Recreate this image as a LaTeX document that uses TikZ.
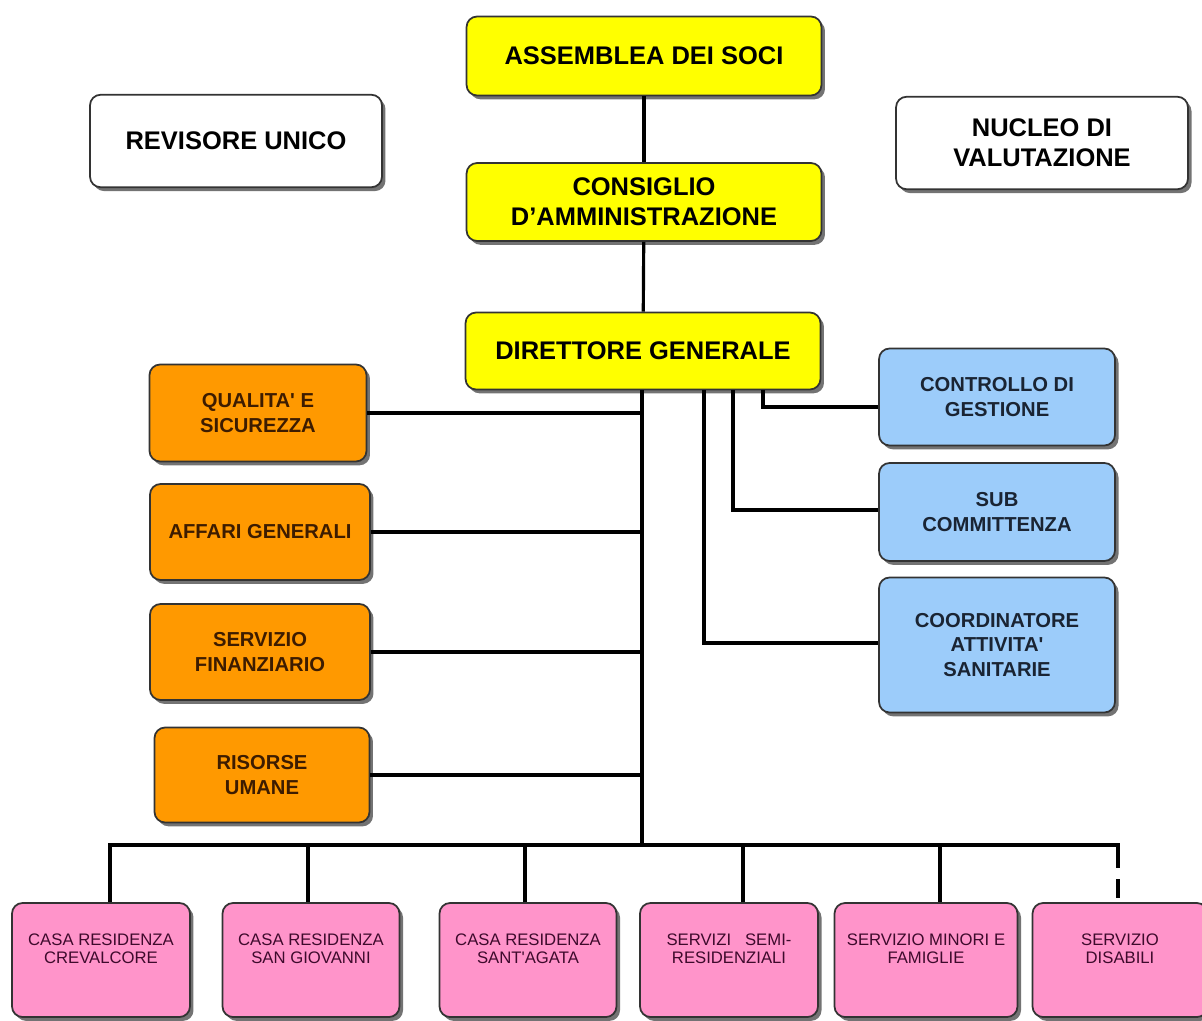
\documentclass[tikz,border=0pt]{standalone}
\usepackage{fontspec}
\setmainfont{Liberation Sans}
\usetikzlibrary{calc,shadows}

\definecolor{topfill}{HTML}{FFFF00}
\definecolor{stafffill}{HTML}{FF9900}
\definecolor{stafftext}{HTML}{3D1C00}
\definecolor{unitfill}{HTML}{9CCCFA}
\definecolor{unittext}{HTML}{1A2433}
\definecolor{servfill}{HTML}{FF94CA}
\definecolor{servtext}{HTML}{3E0A2C}

\tikzset{
  box/.style={draw=black!80, line width=1pt, rounded corners=6pt, align=center, inner sep=2pt,
    drop shadow={shadow xshift=2pt, shadow yshift=-2.2pt, fill=black!55, opacity=1}},
  topbox/.style={box, fill=topfill, font=\bfseries\fontsize{14.5}{17}\selectfont, minimum width=7.1cm},
  sidebox/.style={box, fill=white, font=\bfseries\fontsize{14.5}{17}\selectfont, minimum width=5.84cm, minimum height=1.85cm},
  staffbox/.style={box, fill=stafffill, text=stafftext, font=\bfseries\fontsize{11.5}{14}\selectfont},
  unitbox/.style={box, fill=unitfill, text=unittext, font=\bfseries\fontsize{11.5}{14}\selectfont, minimum width=4.72cm},
  servbox/.style={box, fill=servfill, text=servtext, font=\fontsize{9.5}{10.3}\selectfont,
    inner ysep=17.5pt, text height=17.2pt, text depth=12.7pt},
  conn/.style={line width=1.8pt, black}
}

\begin{document}
\begin{tikzpicture}[x=0.02cm,y=-0.02cm]
\useasboundingbox (0,0) rectangle (1202,1020);

% Governing bodies
\node [topbox, minimum height=1.58cm] (soci) at (644,56) {ASSEMBLEA DEI SOCI};
\node [topbox, minimum height=1.56cm] (cda) at (644,202) {CONSIGLIO\\D’AMMINISTRAZIONE};
\node [topbox, minimum height=1.54cm] (dg) at (643,351) {DIRETTORE GENERALE};
\node [sidebox] (revisore) at (236,141) {REVISORE UNICO};
\node [sidebox] (nucleo) at (1042,143) {NUCLEO DI\\VALUTAZIONE};

% Staff on the left
\node [staffbox, minimum width=4.34cm, minimum height=1.94cm] (qualita) at (258,413) {QUALITA\textquotesingle{} E\\SICUREZZA};
\node [staffbox, minimum width=4.4cm, minimum height=1.92cm] (affari) at (260,532) {AFFARI GENERALI};
\node [staffbox, minimum width=4.4cm, minimum height=1.92cm] (finanz) at (260,652) {SERVIZIO\\FINANZIARIO};
\node [staffbox, minimum width=4.3cm, minimum height=1.9cm] (risorse) at (262,775) {RISORSE\\UMANE};

% Staff on the right
\node [unitbox, minimum height=1.94cm] (controllo) at (997,397) {CONTROLLO DI\\GESTIONE};
\node [unitbox, minimum height=1.96cm] (sub) at (997,512) {SUB\\COMMITTENZA};
\node [unitbox, minimum height=2.7cm] (coord) at (997,645) {COORDINATORE\\ATTIVITA\textquotesingle\\SANITARIE};

% Services
\node [servbox, minimum width=3.56cm] (crev) at (101,960) {CASA RESIDENZA\\CREVALCORE};
\node [servbox, minimum width=3.54cm] (sangio) at (311,960) {CASA RESIDENZA\\SAN GIOVANNI};
\node [servbox, minimum width=3.54cm] (santag) at (528,960) {CASA RESIDENZA\\SANT\textquotesingle{}AGATA};
\node [servbox, minimum width=3.56cm] (semi) at (729,960) {SERVIZI\ \ \ SEMI-\\RESIDENZIALI};
\node [servbox, minimum width=3.66cm] (minori) at (926,960) {SERVIZIO MINORI E\\FAMIGLIE};
\node [servbox, minimum width=3.5cm] (disab) at (1120,960) {SERVIZIO\\DISABILI};

% Connectors
\coordinate (bus) at (642,845);
\draw [conn] (soci) -- (cda);
\draw [conn] (cda) -- (dg);
\draw [conn] (dg.south -| bus) -- (bus);
\foreach \n in {qualita,affari,finanz,risorse}
  \draw [conn] (\n.east) -- (\n.east -| bus);
\draw [conn] ($(dg.south)+(120,0)$) |- ($(controllo.west)+(0,10)$);
\draw [conn] ($(dg.south)+(90,0)$) |- ($(sub.west)+(0,-2)$);
\draw [conn] ($(dg.south)+(61,0)$) |- ($(coord.west)+(0,-2)$);
\foreach \n/\d in {crev/9,sangio/-3,santag/-3,semi/14,minori/14}
  \draw [conn] (\n.north) ++(\d,0) |- (bus);
\draw [conn] (bus) -| ($(disab.north)+(-2,-34)$);
\draw [conn, dash pattern=on 11pt off 9pt] ($(disab.north)+(-2,-58)$) -- ($(disab.north)+(-2,-4)$);

\end{tikzpicture}
\end{document}
